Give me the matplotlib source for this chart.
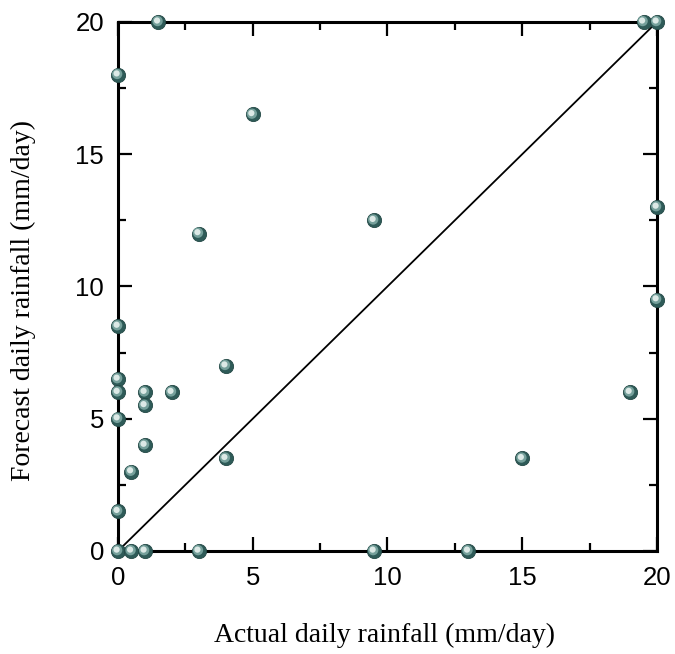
import matplotlib.pyplot as plt
import matplotlib.transforms as mtransforms
from matplotlib.ticker import MultipleLocator

# actual vs forecast daily rainfall (mm/day)
actual = [1.5, 0, 5, 3, 9.5, 19.5, 20, 20, 20, 19, 15, 13, 9.5, 3,
          4, 4, 2, 1, 1, 1, 0.5, 0, 0, 0, 0, 0, 0, 0.5, 1]
forecast = [20, 18, 16.5, 12, 12.5, 20, 20, 13, 9.5, 6, 3.5, 0, 0, 0,
            7, 3.5, 6, 6, 5.5, 4, 3, 8.5, 6.5, 6, 5, 1.5, 0, 0, 0]

fig = plt.figure(figsize=(6.75, 6.54), dpi=100)
ax = fig.add_axes([0.1748, 0.1575, 0.7985, 0.809])

ax.plot([0, 20], [0, 20], color="black", lw=1.3, zorder=2)

# sphere look: dark ball, mid-tone, then light highlight shifted up-left
ax.scatter(actual, forecast, s=105, color="#2e5b58", edgecolor="#234845",
           linewidth=0.6, zorder=5, clip_on=False)
mid = mtransforms.offset_copy(ax.transData, fig=fig, x=-0.6, y=0.6, units="points")
ax.scatter(actual, forecast, s=55, color="#75a09b", edgecolor="none",
           zorder=6, clip_on=False, transform=mid)
hi = mtransforms.offset_copy(ax.transData, fig=fig, x=-1.0, y=1.0, units="points")
ax.scatter(actual, forecast, s=20, color="#dce9e6", edgecolor="none",
           zorder=7, clip_on=False, transform=hi)

ax.set_xlim(0, 20)
ax.set_ylim(0, 20)
ax.xaxis.set_major_locator(MultipleLocator(5))
ax.yaxis.set_major_locator(MultipleLocator(5))
ax.xaxis.set_minor_locator(MultipleLocator(2.5))
ax.yaxis.set_minor_locator(MultipleLocator(2.5))
ax.tick_params(which="both", direction="in", top=True, right=True, width=1.6)
ax.tick_params(which="major", length=10, labelsize=18.5)
ax.tick_params(which="minor", length=6)
ax.tick_params(axis="x", which="major", pad=11)
ax.tick_params(axis="y", which="major", pad=10)
for lab in ax.get_xticklabels() + ax.get_yticklabels():
    lab.set_fontfamily("Liberation Sans")
for sp in ax.spines.values():
    sp.set_linewidth(2.2)

ax.set_xlabel("Actual daily rainfall (mm/day)", family="Liberation Serif",
              fontsize=20)
ax.set_ylabel("Forecast daily rainfall (mm/day)", family="Liberation Serif",
              fontsize=20)
ax.xaxis.set_label_coords(0.494, -0.135)
ax.yaxis.set_label_coords(-0.152, 0.474)

fig.savefig("out.png", dpi=100)
